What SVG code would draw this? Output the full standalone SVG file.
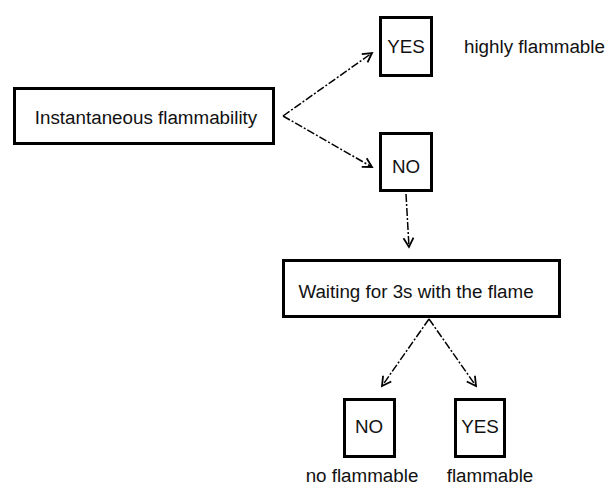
<svg xmlns="http://www.w3.org/2000/svg" width="605" height="485" viewBox="0 0 605 485">
<style>
.box{fill:#fff;stroke:#000;stroke-width:3}
.t{font-family:"Liberation Sans",Arial,sans-serif;font-size:18.8px;fill:#111}
.c{stroke:#000;stroke-width:1.5;fill:none;stroke-dasharray:8,2,2,2}
</style>
<defs>
<marker id="ah" markerUnits="userSpaceOnUse" markerWidth="14" markerHeight="14" viewBox="-12 -7 14 14" refX="0" refY="0" orient="auto">
<path d="M-9,-5 L0,0 L-9,5" fill="none" stroke="#000" stroke-width="1.8"/>
</marker>
</defs>
<rect width="605" height="485" fill="#fff"/>
<g id="connectors">
<path class="c" d="M283,116 L372,53" marker-end="url(#ah)"/>
<path class="c" d="M283,116 L372,167" marker-end="url(#ah)"/>
<path class="c" d="M406,194 L409,247" marker-end="url(#ah)"/>
<path class="c" d="M429,319 L382,386" marker-end="url(#ah)"/>
<path class="c" d="M429,319 L476,386" marker-end="url(#ah)"/>
</g>
<g id="instantaneous">
<rect class="box" x="14.5" y="88.5" width="259" height="55"/>
<text class="t" x="146" y="124" text-anchor="middle">Instantaneous flammability</text>
</g>
<g id="yes1">
<rect class="box" x="380.5" y="17.5" width="51" height="58"/>
<text class="t" x="406" y="53" text-anchor="middle">YES</text>
</g>
<g id="highly">
<text class="t" x="464" y="53">highly flammable</text>
</g>
<g id="no1">
<rect class="box" x="380.5" y="133.5" width="51" height="57"/>
<text class="t" x="406" y="173" text-anchor="middle">NO</text>
</g>
<g id="waiting">
<rect class="box" x="283.5" y="260.5" width="276" height="56"/>
<text class="t" x="416" y="298" text-anchor="middle">Waiting for 3s with the flame</text>
</g>
<g id="no2">
<rect class="box" x="344.5" y="399.5" width="50" height="57"/>
<text class="t" x="369" y="433" text-anchor="middle">NO</text>
</g>
<g id="yes2">
<rect class="box" x="455.5" y="399.5" width="49" height="57"/>
<text class="t" x="480" y="433" text-anchor="middle">YES</text>
</g>
<g id="noflam">
<text class="t" x="362" y="482" text-anchor="middle">no flammable</text>
</g>
<g id="flam">
<text class="t" x="490" y="482" text-anchor="middle">flammable</text>
</g>
</svg>
